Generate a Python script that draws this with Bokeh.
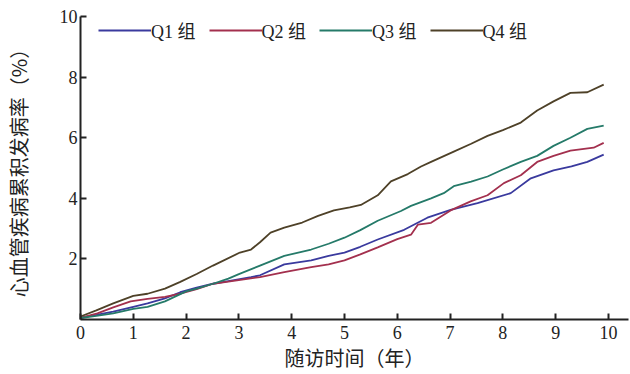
from bokeh.plotting import figure
from bokeh.models import Range1d, FixedTicker, Legend, LegendItem
from bokeh.embed import file_html
from bokeh.resources import INLINE

# ---- data ----
q1_x = [0, 0.3, 0.62, 1.0, 1.27, 1.6, 1.89, 2.2, 2.51, 2.8, 3.23, 3.4, 3.86, 4.37, 4.7, 5.0, 5.3, 5.63, 6.13, 6.57, 7.01, 7.52, 8.15, 8.53, 8.96, 9.3, 9.6, 9.91]
q1_y = [0.05, 0.15, 0.26, 0.42, 0.53, 0.7, 0.9, 1.05, 1.18, 1.27, 1.4, 1.46, 1.82, 1.95, 2.1, 2.21, 2.4, 2.64, 2.96, 3.36, 3.62, 3.84, 4.17, 4.66, 4.92, 5.05, 5.2, 5.44]

q2_x = [0, 0.32, 0.62, 0.95, 1.27, 1.6, 1.89, 2.2, 2.51, 2.8, 3.16, 3.4, 3.86, 4.37, 4.7, 5.0, 5.3, 5.63, 6.0, 6.26, 6.39, 6.64, 7.01, 7.39, 7.71, 8.02, 8.34, 8.65, 8.96, 9.28, 9.72, 9.91]
q2_y = [0.05, 0.2, 0.4, 0.6, 0.68, 0.75, 0.85, 1.0, 1.18, 1.25, 1.34, 1.4, 1.56, 1.73, 1.82, 1.95, 2.15, 2.38, 2.65, 2.8, 3.13, 3.19, 3.6, 3.9, 4.1, 4.5, 4.76, 5.2, 5.4, 5.57, 5.67, 5.83]

q3_x = [0, 0.3, 0.62, 1.0, 1.27, 1.6, 2.0, 2.2, 2.51, 2.8, 3.0, 3.4, 3.86, 4.37, 4.7, 5.0, 5.3, 5.63, 6.07, 6.26, 6.64, 6.88, 7.07, 7.4, 7.71, 8.0, 8.34, 8.65, 8.96, 9.28, 9.6, 9.91]
q3_y = [0.05, 0.12, 0.2, 0.35, 0.42, 0.6, 0.93, 1.02, 1.18, 1.35, 1.5, 1.78, 2.1, 2.31, 2.5, 2.7, 2.95, 3.26, 3.58, 3.75, 4.0, 4.17, 4.4, 4.55, 4.72, 4.95, 5.2, 5.4, 5.73, 6.0, 6.29, 6.4]

q4_x = [0, 0.3, 0.62, 1.0, 1.27, 1.6, 1.89, 2.2, 2.51, 3.02, 3.23, 3.4, 3.6, 3.86, 4.2, 4.5, 4.8, 5.1, 5.31, 5.63, 5.88, 6.2, 6.45, 6.64, 7.07, 7.4, 7.71, 8.0, 8.34, 8.65, 8.96, 9.28, 9.6, 9.91]
q4_y = [0.1, 0.3, 0.53, 0.78, 0.85, 1.02, 1.24, 1.5, 1.78, 2.21, 2.31, 2.55, 2.87, 3.03, 3.2, 3.42, 3.6, 3.7, 3.78, 4.1, 4.56, 4.8, 5.05, 5.2, 5.54, 5.8, 6.06, 6.25, 6.5, 6.9, 7.2, 7.48, 7.5, 7.75]

series_names = ["Q1 组", "Q2 组", "Q3 组", "Q4 组"]
series_colors = ["#3a3a9e", "#a3304e", "#257a69", "#4e4128"]
x_ticks = [0, 1, 2, 3, 4, 5, 6, 7, 8, 9, 10]
y_ticks = [2, 4, 6, 8, 10]

FONT = "Liberation Serif, Noto Sans CJK SC"
CJK = "Noto Sans CJK SC"

p = figure(width=630, height=374, output_backend="svg", toolbar_location=None,
           x_range=Range1d(0, 10.38), y_range=Range1d(0, 10),
           min_border_left=79, min_border_right=2, min_border_top=16, min_border_bottom=51)
p.outline_line_color = None
p.xgrid.visible = False
p.ygrid.visible = False
p.background_fill_color = "white"

renderers = []
for xs, ys, c in zip([q1_x, q2_x, q3_x, q4_x], [q1_y, q2_y, q3_y, q4_y], series_colors):
    r = p.line(xs, ys, line_color=c, line_width=1.8)
    renderers.append(r)

for ax in (p.xaxis[0], p.yaxis[0]):
    ax.axis_line_width = 2
    ax.axis_line_color = "#222222"
    ax.major_tick_line_color = "#222222"
    ax.major_tick_line_width = 2
    ax.major_tick_in = 6
    ax.major_tick_out = 0
    ax.minor_tick_line_color = None
    ax.major_label_text_font = FONT
    ax.major_label_text_font_size = "18px"
    ax.major_label_text_color = "#222222"
    ax.axis_label_text_font = CJK
    ax.axis_label_text_font_style = "normal"
    ax.axis_label_text_color = "#222222"

p.xaxis.ticker = FixedTicker(ticks=x_ticks)
p.yaxis.ticker = FixedTicker(ticks=y_ticks)
p.xaxis.major_label_standoff = 6
p.yaxis.major_label_standoff = 3
p.xaxis.axis_label = "随访时间（年）"
p.yaxis.axis_label = "心血管疾病累积发病率（%）"
p.xaxis.axis_label_text_font_size = "20px"
p.yaxis.axis_label_text_font_size = "20px"
p.xaxis.axis_label_standoff = 1
p.yaxis.axis_label_standoff = 24

legend = Legend(items=[LegendItem(label=n, renderers=[r]) for n, r in zip(series_names, renderers)],
                orientation="horizontal", location=(18, 276), margin=0, padding=0,
                spacing=13, glyph_width=53, label_standoff=0,
                label_text_font=FONT, label_text_font_size="18px", label_text_color="#222222",
                border_line_color=None, background_fill_alpha=0)
p.add_layout(legend)

open("out.html", "w").write(file_html(p, INLINE))
